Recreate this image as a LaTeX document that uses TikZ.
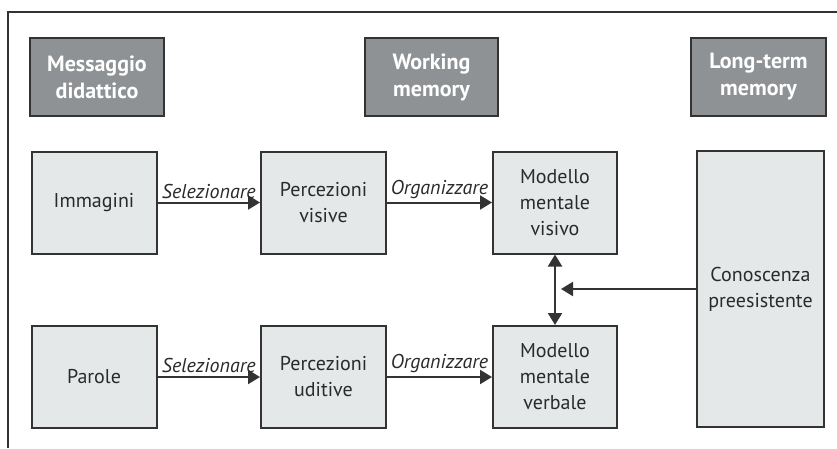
\documentclass[tikz,border=0pt]{standalone}
\usepackage{fontspec}
\setmainfont{PT Sans}
\usetikzlibrary{arrows.meta}

\definecolor{boxfill}{HTML}{E5E8E9}
\definecolor{headfill}{HTML}{8F9294}
\definecolor{edgecol}{HTML}{333333}
\definecolor{textcol}{HTML}{2A2A2A}

\tikzset{
	head/.style={draw=edgecol, line width=2pt, fill=headfill, text=white, font=\fontsize{22}{27}\selectfont\bfseries, align=center, minimum width=133pt, minimum height=78pt, inner sep=0pt},
	stage/.style={draw=edgecol, line width=2pt, fill=boxfill, text=textcol, font=\fontsize{20}{26}\selectfont, align=center, minimum width=125pt, minimum height=102pt, inner sep=0pt},
	flow/.style={draw=edgecol, line width=2pt, -{Triangle[length=12pt,width=14pt]}},
	verb/.style={above, text=textcol, font=\fontsize{20}{24}\selectfont\itshape, inner sep=3pt}
}

\begin{document}
\begin{tikzpicture}[x=1pt,y=-1pt]
		\useasboundingbox (0,0) rectangle (837,448);
		% outer frame, only left and top sides show
		\draw[edgecol, line width=2pt] (8,448) -- (8,12) -- (837,12);
		
		\node[head, minimum width=134pt] (msg) at (97,77) {Messaggio\\didattico};
		\node[head] (wm) at (431.5,77) {Working\\memory};
		\node[head, minimum width=135pt] (ltm) at (758.5,77) {Long-term\\memory};
		
		\node[stage] (img) at (94,202.5) {Immagini};
		\node[stage] (pvis) at (323.5,202.5) {Percezioni\\visive};
		\node[stage, minimum width=124pt] (mvis) at (555,202.5) {Modello\\mentale\\visivo};
		
		\node[stage] (par) at (94,377) {Parole};
		\node[stage] (pud) at (323.5,377) {Percezioni\\uditive};
		\node[stage, minimum width=124pt] (mverb) at (555,377) {Modello\\mentale\\verbale};
		
		\node[stage, minimum width=127pt, minimum height=276pt] (pre) at (760.5,289) {Conoscenza\\preesistente};
		
		\draw[flow] (img) -- node[verb] {Selezionare} (pvis);
		\draw[flow] (pvis) -- node[verb] {Organizzare} (mvis);
		\draw[flow] (par) -- node[verb] {Selezionare} (pud);
		\draw[flow] (pud) -- node[verb] {Organizzare} (mverb);
		
		\draw[flow, {Triangle[length=12pt,width=14pt]}-{Triangle[length=12pt,width=14pt]}] (mvis) -- (mverb);
		\coordinate (join) at (561,289);
		\draw[flow] (pre.west |- join) -- (join);
	\end{tikzpicture}
\end{document}
